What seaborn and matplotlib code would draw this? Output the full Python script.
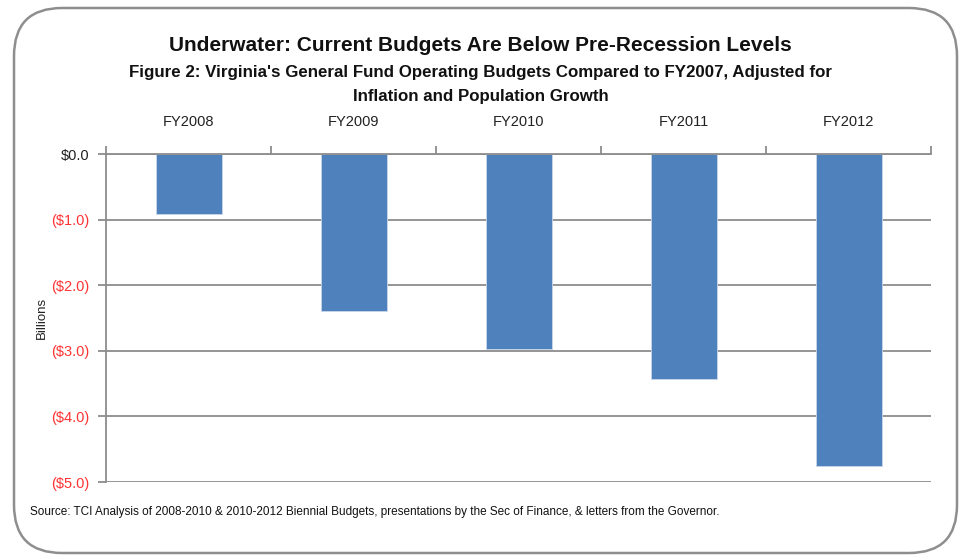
import matplotlib
matplotlib.use("Agg")
import matplotlib.pyplot as plt
import seaborn as sns
import pandas as pd
from matplotlib.patches import FancyBboxPatch
from matplotlib.ticker import FixedLocator

years = ["FY2008", "FY2009", "FY2010", "FY2011", "FY2012"]
values = [-0.91, -2.39, -2.98, -3.43, -4.76]
ytick_vals = [0.0, -1.0, -2.0, -3.0, -4.0, -5.0]
ytick_labels = ["$0.0", "($1.0)", "($2.0)", "($3.0)", "($4.0)", "($5.0)"]

sns.set_theme(style="white")
plt.rcParams['font.family'] = ['Liberation Sans', 'DejaVu Sans']

df = pd.DataFrame({"year": years, "value": values})

fig = plt.figure(figsize=(9.61, 5.55), dpi=100)
ax = fig.add_axes([106/961, 1-482/555, 825/961, 328/555])

sns.barplot(data=df, x="year", y="value", color="#4F81BD", saturation=1,
            width=0.4, edgecolor="#C9D6EA", linewidth=0.6, ax=ax)

ax.set_ylim(-5, 0)
ax.set_xlim(-0.5, len(years) - 0.5)
ax.set_yticks(ytick_vals)
ax.set_yticklabels(ytick_labels, fontsize=10.5)
for lbl, v in zip(ax.get_yticklabels(), ytick_vals):
    lbl.set_color("#222222" if v == 0 else "#FF3333")
ax.yaxis.grid(True, color="#8C8C8C", linewidth=1.3)
ax.set_axisbelow(True)

ax.xaxis.tick_top()
ax.xaxis.set_label_position("top")
ax.tick_params(axis="x", which="major", length=0, pad=18, labelsize=10.5, labelcolor="#222222")
ax.xaxis.set_minor_locator(FixedLocator([i - 0.5 for i in range(len(years) + 1)]))
ax.tick_params(axis="x", which="minor", top=True, bottom=False, direction="out", length=6,
               width=1.3, color="#8C8C8C")
ax.tick_params(axis="y", which="major", left=True, direction="out", length=6, width=1.3,
               color="#8C8C8C", pad=6)
ax.set_xlabel("")
ax.set_ylabel("Billions", fontsize=9.5, color="#222222", labelpad=2)

for s in ["right", "bottom"]:
    ax.spines[s].set_visible(False)
for s in ["top", "left"]:
    ax.spines[s].set_visible(True)
    ax.spines[s].set_color("#8C8C8C")
    ax.spines[s].set_linewidth(1.3)

fig.text(0.5, 1-45/555, "Underwater: Current Budgets Are Below Pre-Recession Levels",
         ha="center", va="center", fontsize=15, fontweight="bold", color="#111111")
fig.text(0.5, 1-72/555, "Figure 2: Virginia's General Fund Operating Budgets Compared to FY2007, Adjusted for",
         ha="center", va="center", fontsize=12.2, fontweight="bold", color="#111111")
fig.text(0.5, 1-97/555, "Inflation and Population Growth",
         ha="center", va="center", fontsize=12.2, fontweight="bold", color="#111111")
fig.text(30/961, 1-512/555,
         "Source: TCI Analysis of 2008-2010 & 2010-2012 Biennial Budgets, presentations by the Sec of Finance, & letters from the Governor.",
         ha="left", va="center", fontsize=8.5, color="#111111")

border = FancyBboxPatch((14/961, 1-553/555), (957-14)/961, (553-8)/555,
                        boxstyle="round,pad=0,rounding_size=0.05",
                        transform=fig.transFigure, fill=False, edgecolor="#8E8E8E",
                        linewidth=1.8, mutation_aspect=961/555)
fig.patches.append(border)

fig.savefig("out.png", dpi=100)
